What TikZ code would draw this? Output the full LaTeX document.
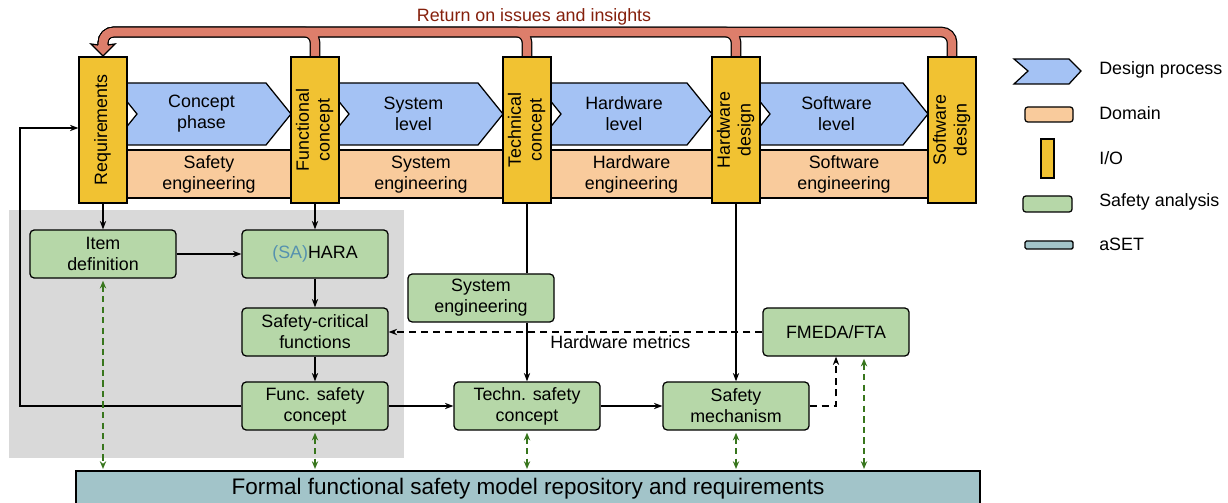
\documentclass[tikz,border=0pt]{standalone}
\usepackage{fontspec}
\setmainfont{Liberation Sans}
\usepackage{xcolor}
\usetikzlibrary{arrows.meta}

\definecolor{procblue}{HTML}{A4C2F4}
\definecolor{domorange}{HTML}{F9CB9C}
\definecolor{ioyellow}{HTML}{F1C232}
\definecolor{anagreen}{HTML}{B6D7A8}
\definecolor{asetteal}{HTML}{A2C4C9}
\definecolor{retred}{HTML}{DD7E6B}
\definecolor{retdark}{HTML}{85200C}
\definecolor{bggray}{HTML}{D9D9D9}
\definecolor{linkgreen}{HTML}{38761D}
\definecolor{sablue}{RGB}{85,145,175}

\tikzset{
  io/.style={draw, fill=ioyellow, line width=0.9pt, minimum width=1.2cm, minimum height=3.65cm, inner sep=0pt},
  ana/.style={draw, fill=anagreen, rounded corners=3pt, line width=0.9pt, minimum width=3.65cm, minimum height=1.2cm, align=center, inner sep=1pt},
  flow/.style={-{Stealth[length=6pt,width=4.5pt]}, line width=0.8pt},
  link/.style={{Stealth[length=5.5pt,width=4.5pt]}-{Stealth[length=5.5pt,width=4.5pt]}, dash pattern=on 4.5pt off 3pt, line width=1pt, draw=linkgreen, shorten <=1.5pt, shorten >=1pt},
  legtext/.style={anchor=west, inner sep=0pt}
}
\newcommand{\iotext}[1]{\rotatebox{90}{\begin{tabular}{@{}c@{}}#1\end{tabular}}}

\begin{document}
\begin{tikzpicture}[x=0.025cm, y=-0.025cm, font=\fontsize{12.7}{14.8}\selectfont]
\useasboundingbox (0,0) rectangle (1228,503);
\clip (0,0) rectangle (1228,503);

% shaded part of the safety analysis
\fill[bggray] (9,210) rectangle (404,458);

% return arrow on top
\foreach \c in {315,527,736,952}
  \draw[line width=7.6pt, rounded corners=7.5pt] (\c,57) -- (\c,32) -- (103,32) -- (103,46);
\foreach \c in {315,527,736,952}
  \draw[line width=5.8pt, draw=retred, rounded corners=7.5pt] (\c,57) -- (\c,32) -- (103,32) -- (103,46);
\filldraw[fill=retred, line width=0.9pt] (98,45) -- (91,44) -- (103,56) -- (115,44) -- (108,45);
\node[text=retdark] (ret) at (534,17) {Return on issues and insights};

% design process and domains between the I/O boxes
\foreach \a/\b/\top/\bot [count=\i] in {103/315/Concept/phase, 315/527/System/level, 527/736/Hardware/level, 736/952/Software/level}{
  \draw[line width=0.9pt, fill=procblue] (\a+9,83) -- (\b-49,83) -- (\b-24,114) -- (\b-49,145) -- (\a+9,145) -- (\a+34,114) -- cycle;
  \node[align=center] (phase\i) at ({(\a+\b)/2-7.5},114) {\top\\\bot};
}
\foreach \a/\b/\name [count=\i] in {103/315/Safety, 315/527/System, 527/736/Hardware, 736/952/Software}{
  \draw[line width=0.9pt, fill=domorange] (\a,150) rectangle (\b,198);
  \node[align=center] (dom\i) at ({(\a+\b)/2},174.5) {\name\\engineering};
}

% I/O
\node[io] (req) at (103,130) {\iotext{Requirements}};
\node[io] (fc) at (315,130) {\iotext{Functional\\concept}};
\node[io] (tc) at (527,130) {\iotext{Technical\\concept}};
\node[io] (hd) at (736,130) {\iotext{Hardware\\design}};
\node[io] (sd) at (952,130) {\iotext{Software\\design}};

% safety analysis
\node[ana] (item) at (103,254) {Item\\definition};
\node[ana] (hara) at (315,254) {\textcolor{sablue}{(SA)}HARA};
\node[ana] (scf) at (315,332) {Safety-critical\\functions};
\node[ana] (fsc) at (315,406) {Func. safety\\concept};
\node[ana] (syseng) at (481,298) {System\\engineering};
\node[ana] (tsc) at (527,406) {Techn. safety\\concept};
\node[ana] (mech) at (736,406) {Safety\\mechanism};
\node[ana] (fmeda) at (836,332) {FMEDA/FTA};

\node[draw, fill=asetteal, line width=0.9pt, minimum width=22.6cm, minimum height=0.875cm, font=\fontsize{16}{19}\selectfont] (repo) at (528,488.5) {Formal functional safety model repository and requirements};

% connections
\coordinate (back) at (20,128);
\draw[flow] (req) -- (item);
\draw[flow] (fc) -- (hara);
\draw[flow] (item) -- (hara);
\draw[flow] (hara) -- (scf);
\draw[flow] (scf) -- (fsc);
\draw[flow] (fsc.west) -| (back) -- (back -| req.west);
\draw[flow] (fsc) -- (tsc);
\draw[flow] (tsc) -- (mech);
\draw[line width=0.8pt] (tc) -- (tc |- syseng.north);
\draw[flow] (tc |- syseng.south) -- (tsc);
\draw[flow] (hd) -- (mech);
\draw[flow, dash pattern=on 5pt off 3.5pt] (mech.east) -| (fmeda.south);
\draw[flow, dash pattern=on 5pt off 3.5pt] (fmeda) -- node[pos=0.38, below, inner sep=2pt] (hwm) {Hardware metrics} (scf);

% links to the repository
\draw[link] (item.south) -- (item.south |- repo.north);
\draw[link] (fsc.south) -- (fsc.south |- repo.north);
\draw[link] (tsc.south) -- (tsc.south |- repo.north);
\draw[link] (mech.south) -- (mech.south |- repo.north);
\draw[link] ([xshift=0.7cm]fmeda.south) -- ([xshift=0.7cm]fmeda.south |- repo.north);

% legend
\filldraw[fill=procblue, line width=0.9pt] (1014,59) -- (1069,59) -- (1081,71) -- (1069,84) -- (1014,84) -- (1028,71) -- cycle;
\node[legtext] (lgproc) at (1099,70) {Design process};
\filldraw[fill=domorange, line width=0.9pt, rounded corners=2pt] (1025,107) rectangle (1073,122);
\node[legtext] (lgdom) at (1099,113) {Domain};
\filldraw[fill=ioyellow, line width=0.9pt] (1041,139) rectangle (1054,178);
\node[legtext] (lgio) at (1099,158) {I/O};
\filldraw[fill=anagreen, line width=0.9pt, rounded corners=2pt] (1023,196) rectangle (1072,212);
\node[legtext] (lgana) at (1099,202) {Safety analysis};
\filldraw[fill=asetteal, line width=0.9pt, rounded corners=1pt] (1025,241) rectangle (1073,249);
\node[legtext] (lgset) at (1099,244) {aSET};
\end{tikzpicture}
\end{document}
